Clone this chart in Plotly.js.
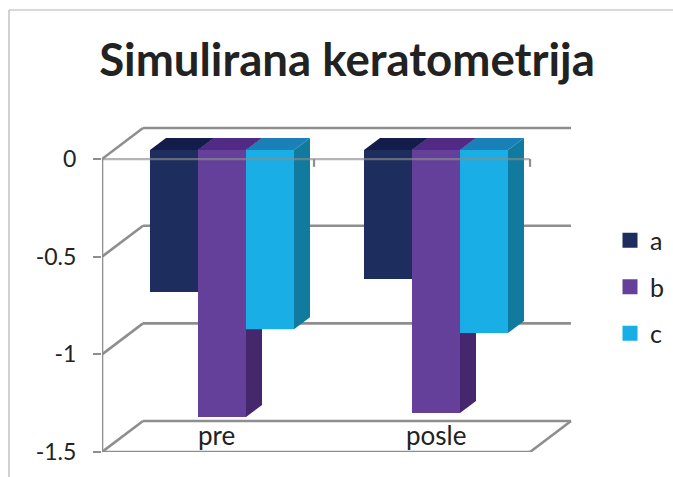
<!DOCTYPE html>
<html>
<head>
<meta charset="utf-8">
<script src="https://cdn.plot.ly/plotly-3.0.1.min.js"></script>
<style>html,body{margin:0;padding:0;background:#fff}#chart{width:673px;height:477px}</style>
</head>
<body>
<div id="chart"></div>
<script>
const categories = ["pre", "posle"];
const seriesNames = ["a", "b", "c"];
const a = [-0.727, -0.66];
const b = [-1.367, -1.347];
const c = [-0.917, -0.937];
const seriesValues = [a, b, c];
const frontColors = ["#1c2d5e", "#65409a", "#19aee6"];
const topColors = ["#141c4c", "#512a86", "#1b80b8"];
const sideColors = ["#162350", "#45276e", "#117a9f"];
const yTicks = [0, -0.5, -1, -1.5];

const xPos = categories.map((_, i) => i);
const depthX = 41 / 214, depthY = 31 / 195.33;       // wall depth in axis units
const barDX = 16 / 214, barDY = 12 / 195.33;         // bar depth
const barBase = 9 / 195.33;                          // bars sit mid-floor
const barW = 48 / 214;
const xMin = -0.5607, xMax = 1.6495, xEnd = 1.4393;
const grey = "#8e8e8e";

const poly = (pts, fill) => ({
  type: "path", xref: "x", yref: "y", layer: "below",
  path: "M" + pts.map(p => p.join(",")).join("L") + "Z",
  fillcolor: fill, line: { width: 0 }
});
const seg = (x0, y0, x1, y1, w, col, layer) => ({
  type: "line", xref: "x", yref: "y", layer: layer || "below",
  x0, y0, x1, y1, line: { color: col || grey, width: w || 2.6 }
});

const shapes = [];
// walls and floor
yTicks.forEach(t => {
  shapes.push(seg(xMin, t, xMin + depthX, t + depthY));
  shapes.push(seg(xMin + depthX, t + depthY, xEnd + depthX, t + depthY));
});
shapes.push(seg(xMin, 0, xMin, -1.5));
shapes.push(seg(xMin, -1.5, xEnd, -1.5));
shapes.push(seg(xEnd, -1.5, xEnd + depthX, -1.5 + depthY));
// 3D faces of the bars
xPos.forEach((x, i) => {
  seriesValues.forEach((vals, s) => {
    const L = x + (s - 1.5) * barW, R = L + barW;
    const T = barBase, B = barBase + vals[i];
    shapes.push(poly([[R, T], [R + barDX, T + barDY], [R + barDX, B + barDY], [R, B]], sideColors[s]));
    shapes.push(poly([[L, T], [L + barDX, T + barDY], [R + barDX, T + barDY], [R, T]], topColors[s]));
  });
});
// front zero line crosses over the bars
shapes.push(seg(xMin, 0, xEnd, 0, 2.2, "rgba(140,140,140,0.65)", "above"));
[0.43, 1.4393].forEach(x => shapes.push(seg(x, 0, x, -0.04, 2.2, grey, "above")));
// outer frame of the picture
const pxX = p => (p - 102) / 473, pxY = p => (452 - p) / 332;
shapes.push({ type: "line", xref: "paper", yref: "paper", x0: pxX(9), y0: pxY(10), x1: pxX(673), y1: pxY(10), line: { color: "#b4b4b4", width: 1.2 } });
shapes.push({ type: "line", xref: "paper", yref: "paper", x0: pxX(9), y0: pxY(10), x1: pxX(9), y1: pxY(477), line: { color: "#b4b4b4", width: 1.2 } });

const traces = seriesNames.map((n, s) => ({
  type: "bar", name: n, x: xPos, y: seriesValues[s], base: barBase,
  marker: { color: frontColors[s] }, legendgroup: n, showlegend: false
}));
seriesNames.forEach((n, s) => traces.push({
  type: "scatter", mode: "markers", name: n, x: [null], y: [null], legendgroup: n,
  marker: { symbol: "square", size: 15, color: frontColors[s] }
}));

const font = "Lato, 'Open Sans', sans-serif";
const labelShift = [-5, 0];
const annotations = categories.map((t, i) => ({
  x: xPos[i], y: -1.5, xref: "x", yref: "y", text: t, showarrow: false,
  yanchor: "bottom", xanchor: "center", yshift: -1, xshift: labelShift[i],
  font: { size: 26, family: font, color: "#222" }
}));
Plotly.newPlot("chart", traces, {
  width: 673, height: 477,
  margin: { l: 102, r: 98, t: 120, b: 25, pad: 0 },
  paper_bgcolor: "#fff", plot_bgcolor: "rgba(0,0,0,0)",
  font: { family: font, color: "#222", size: 24 },
  title: { text: "<b>Simulirana keratometrija</b>", font: { family: font, size: 45.6, color: "#222" },
           x: 347 / 673, xref: "container", xanchor: "center", y: 1 - 60 / 477, yanchor: "middle", yref: "container" },
  barmode: "group", bargap: 0.327, bargroupgap: 0,
  xaxis: { type: "linear", range: [xMin, xMax], showticklabels: false, ticks: "", showgrid: false, zeroline: false, showline: false },
  yaxis: { range: [-1.5, 0.2], tickmode: "array", tickvals: yTicks, ticktext: yTicks.map(String),
           ticks: "outside", ticklen: 8, tickwidth: 2, tickcolor: grey, showgrid: false, zeroline: false,
           showline: false, ticklabelstandoff: 12, tickfont: { size: 23, family: font, color: "#222" } },
  legend: { xref: "container", yref: "container", x: 610 / 673, y: 1 - 217.6 / 477, xanchor: "left", yanchor: "top",
            tracegroupgap: 11, itemclick: false, itemdoubleclick: false, bgcolor: "rgba(0,0,0,0)",
            font: { size: 25, family: font, color: "#222" }, itemwidth: 30 },
  annotations,
  shapes
}, { displayModeBar: false, staticPlot: true });
</script>
</body>
</html>
